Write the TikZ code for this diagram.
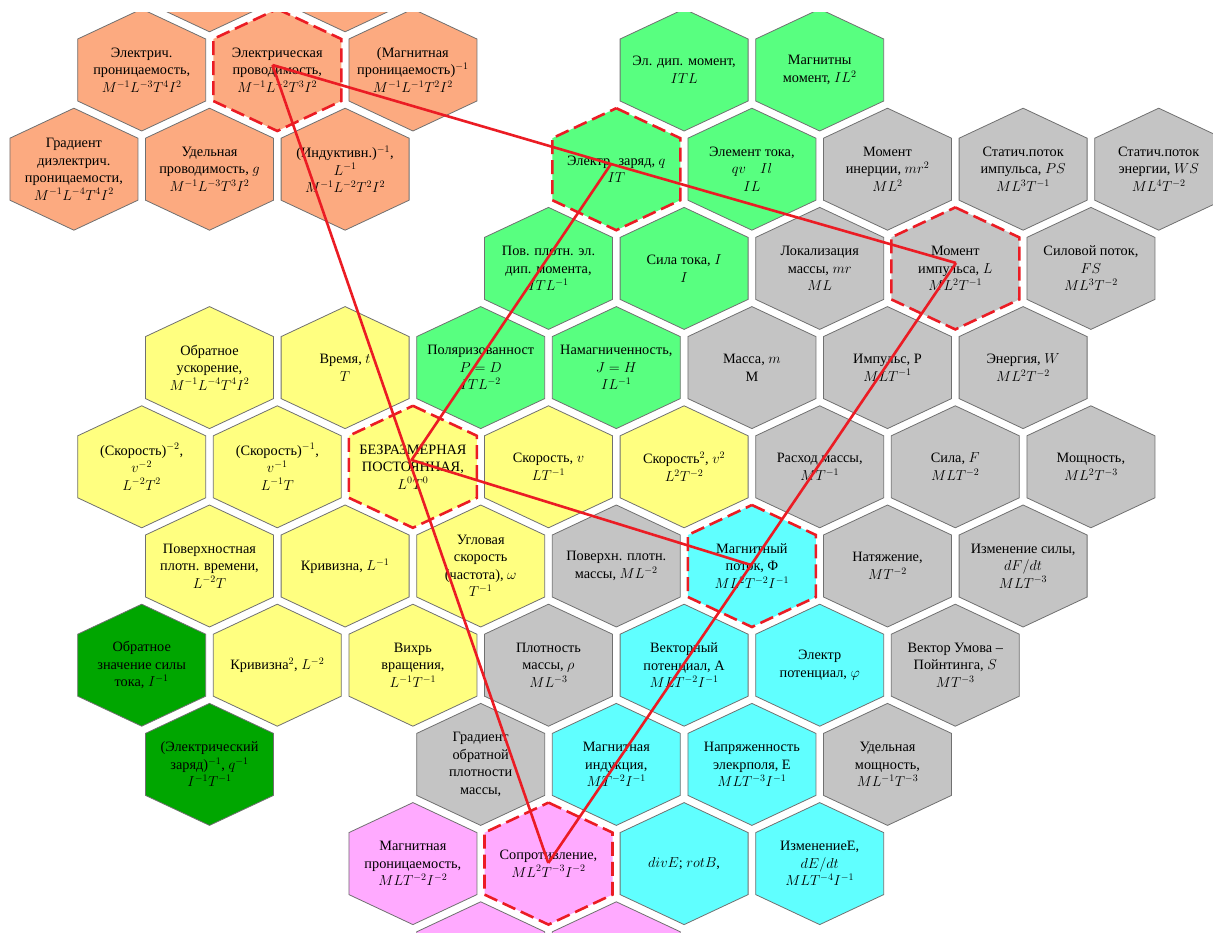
\documentclass[tikz,border=0pt]{standalone}
\usepackage{fontspec}
\setmainfont{Liberation Serif}
\usetikzlibrary{calc}
\definecolor{cSalmon}{RGB}{252,170,128}
\definecolor{cGreen}{RGB}{88,255,128}
\definecolor{cGray}{RGB}{196,196,196}
\definecolor{cYellow}{RGB}{255,255,128}
\definecolor{cCyan}{RGB}{96,255,255}
\definecolor{cDkGreen}{RGB}{0,166,0}
\definecolor{cPink}{RGB}{255,170,255}
\definecolor{cEdge}{RGB}{112,112,112}
\definecolor{cRed}{RGB}{235,28,36}
\newcommand{\hexcell}[5]{%
  \coordinate (#1-c) at ({6.1+67.8*(#2)}, {70+99.2*(#3)});
  \draw[hexbox,#4] ($(#1-c)+(0,-61)$) -- ++(64,30) -- ++(0,62) -- ++(-64,30) -- ++(-64,-30) -- ++(0,-62) -- cycle;
  \node[hextext] (#1) at (#1-c) {#5};
}
\begin{document}
\begin{tikzpicture}[x=1pt,y=-1pt,
  hexbox/.style={draw=cEdge, line width=0.8pt},
  hextext/.style={align=center, inner sep=0pt, font=\fontsize{14.3}{17.5}\selectfont},
  fsalmon/.style={fill=cSalmon},
  fgreen/.style={fill=cGreen},
  fgray/.style={fill=cGray},
  fyellow/.style={fill=cYellow},
  fcyan/.style={fill=cCyan},
  fdkgreen/.style={fill=cDkGreen},
  fpink/.style={fill=cPink},
  dashhex/.style={draw=cRed, line width=2.6pt, dash pattern=on 14pt off 6pt},
  redline/.style={draw=cRed, line width=2.6pt, line join=round}]
\useasboundingbox (0,0) rectangle (1213,933);
\begin{scope}
\clip (0,13) rectangle (1213,933);
% row -1
\hexcell{topA}{3}{-1}{fsalmon}{}
\hexcell{topB}{5}{-1}{fsalmon}{}
% row 0
\hexcell{permit}{2}{0}{fsalmon}{Электрич.\\проницаемость,\\$M^{-1}L^{-3}T^4I^2$}
\hexcell{cond}{4}{0}{fsalmon,dashhex}{Электрическая\\проводимость,\\$M^{-1}L^{-2}T^3I^2$}
\hexcell{invmu}{6}{0}{fsalmon}{(Магнитная\\проницаемость)$^{-1}$\\$M^{-1}L^{-1}T^2I^2$}
\hexcell{dipole}{10}{0}{fgreen}{Эл. дип. момент,\\$ITL$}
\hexcell{magmom}{12}{0}{fgreen}{Магнитны\\момент, $IL^2$}
% row 1
\hexcell{graddiel}{1}{1}{fsalmon}{Градиент\\диэлектрич.\\проницаемости,\\$M^{-1}L^{-4}T^4I^2$}
\hexcell{specond}{3}{1}{fsalmon}{Удельная\\проводимость, $g$\\$M^{-1}L^{-3}T^3I^2$}
\hexcell{invind}{5}{1}{fsalmon}{(Индуктивн.)$^{-1}$,\\$L^{-1}$\\$M^{-1}L^{-2}T^2I^2$}
\hexcell{charge}{9}{1}{fgreen,dashhex}{Электр. заряд, $q$\\$IT$}
\hexcell{curelem}{11}{1}{fgreen}{Элемент тока,\\$qv\quad Il$\\$IL$}
\hexcell{inertia}{13}{1}{fgray}{Момент\\инерции, $mr^2$\\$ML^2$}
\hexcell{pflux}{15}{1}{fgray}{Статич.поток\\импульса, $PS$\\$ML^3T^{-1}$}
\hexcell{eflux}{17}{1}{fgray}{Статич.поток\\энергии, $WS$\\$ML^4T^{-2}$}
% row 2
\hexcell{poldens}{8}{2}{fgreen}{Пов. плотн. эл.\\дип. момента,\\$ITL^{-1}$}
\hexcell{current}{10}{2}{fgreen}{Сила тока, $I$\\$I$}
\hexcell{massloc}{12}{2}{fgray}{Локализация\\массы, $mr$\\$ML$}
\hexcell{angmom}{14}{2}{fgray,dashhex}{Момент\\импульса, $L$\\$ML^2T^{-1}$}
\hexcell{forceflux}{16}{2}{fgray}{Силовой поток,\\$FS$\\$ML^3T^{-2}$}
% row 3
\hexcell{invacc}{3}{3}{fyellow}{Обратное\\ускорение,\\$M^{-1}L^{-4}T^4I^2$}
\hexcell{time}{5}{3}{fyellow}{Время, $t$\\$T$}
\hexcell{polar}{7}{3}{fgreen}{Поляризованност\\$P = D$\\$ITL^{-2}$}
\hexcell{magnet}{9}{3}{fgreen}{Намагниченность,\\$J = H$\\$IL^{-1}$}
\hexcell{mass}{11}{3}{fgray}{Масса, $m$\\M}
\hexcell{momentum}{13}{3}{fgray}{Импульс, P\\$MLT^{-1}$}
\hexcell{energy}{15}{3}{fgray}{Энергия, $W$\\$ML^2T^{-2}$}
% row 4
\hexcell{invvsq}{2}{4}{fyellow}{(Скорость)$^{-2}$,\\$v^{-2}$\\$L^{-2}T^2$}
\hexcell{invv}{4}{4}{fyellow}{(Скорость)$^{-1}$,\\$v^{-1}$\\$L^{-1}T$}
\hexcell{dimless}{6}{4}{fyellow,dashhex}{БЕЗРАЗМЕРНАЯ\\ПОСТОЯННАЯ,\\$L^0T^0$}
\hexcell{velocity}{8}{4}{fyellow}{Скорость, $v$\\$LT^{-1}$}
\hexcell{vsq}{10}{4}{fyellow}{Скорость$^2$, $v^2$\\$L^2T^{-2}$}
\hexcell{massrate}{12}{4}{fgray}{Расход массы,\\$MT^{-1}$}
\hexcell{force}{14}{4}{fgray}{Сила, $F$\\$MLT^{-2}$}
\hexcell{power}{16}{4}{fgray}{Мощность,\\$ML^2T^{-3}$}
% row 5
\hexcell{surftime}{3}{5}{fyellow}{Поверхностная\\плотн. времени,\\$L^{-2}T$}
\hexcell{curv}{5}{5}{fyellow}{Кривизна, $L^{-1}$}
\hexcell{angvel}{7}{5}{fyellow}{Угловая\\скорость\\(частота), $\omega$\\$T^{-1}$}
\hexcell{surfmass}{9}{5}{fgray}{Поверхн. плотн.\\массы, $ML^{-2}$}
\hexcell{magflux}{11}{5}{fcyan,dashhex}{Магнитный\\поток, Φ\\$ML^2T^{-2}I^{-1}$}
\hexcell{tension}{13}{5}{fgray}{Натяжение,\\$MT^{-2}$}
\hexcell{dforce}{15}{5}{fgray}{Изменение силы,\\$dF/dt$\\$MLT^{-3}$}
% row 6
\hexcell{invcur}{2}{6}{fdkgreen}{Обратное\\значение силы\\тока, $I^{-1}$}
\hexcell{curvsq}{4}{6}{fyellow}{Кривизна$^2$, $L^{-2}$}
\hexcell{vortex}{6}{6}{fyellow}{Вихрь\\вращения,\\$L^{-1}T^{-1}$}
\hexcell{density}{8}{6}{fgray}{Плотность\\массы, $\rho$\\$ML^{-3}$}
\hexcell{vecpot}{10}{6}{fcyan}{Векторный\\потенциал, A\\$MLT^{-2}I^{-1}$}
\hexcell{elpot}{12}{6}{fcyan}{Электр\\потенциал, $\varphi$}
\hexcell{poynting}{14}{6}{fgray}{Вектор Умова –\\Пойнтинга, $S$\\$MT^{-3}$}
% row 7
\hexcell{invcharge}{3}{7}{fdkgreen}{(Электрический\\заряд)$^{-1}$, $q^{-1}$\\$I^{-1}T^{-1}$}
\hexcell{graddens}{7}{7}{fgray}{Градиент\\обратной\\плотности\\массы,}
\hexcell{magind}{9}{7}{fcyan}{Магнитная\\индукция,\\$MT^{-2}I^{-1}$}
\hexcell{efield}{11}{7}{fcyan}{Напряженность\\элекрполя, E\\$MLT^{-3}I^{-1}$}
\hexcell{specpow}{13}{7}{fgray}{Удельная\\мощность,\\$ML^{-1}T^{-3}$}
% row 8
\hexcell{magperm}{6}{8}{fpink}{Магнитная\\проницаемость,\\$MLT^{-2}I^{-2}$}
\hexcell{resist}{8}{8}{fpink,dashhex}{Сопротивление,\\$ML^2T^{-3}I^{-2}$}
\hexcell{divrot}{10}{8}{fcyan}{$divE$; $rotB$,}
\hexcell{dEdt}{12}{8}{fcyan}{ИзменениеE,\\$dE/dt$\\$MLT^{-4}I^{-1}$}
% row 9
\hexcell{botA}{7}{9}{fpink}{}
\hexcell{botB}{9}{9}{fpink}{}
% junction points of the red polygon
\coordinate (pG) at ($(cond)+(-4.8,-5)$);
\coordinate (pq) at ($(charge)+(-5.3,-5.2)$);
\coordinate (pL) at ($(angmom)+(0.7,-5.4)$);
\coordinate (pO) at ($(dimless)+(-1.3,-6.8)$);
\coordinate (pF) at ($(magflux)+(-0.8,-1)$);
\coordinate (pR) at ($(resist)+(-0.2,-0.6)$);
\draw[redline] (pG) -- (pq) -- (pL);
\draw[redline] (pq) -- (pO) -- (pF);
\draw[redline] (pR) -- (pF) -- (pL);
\draw[redline] (pG) -- (pR);
\end{scope}
\end{tikzpicture}
\end{document}
